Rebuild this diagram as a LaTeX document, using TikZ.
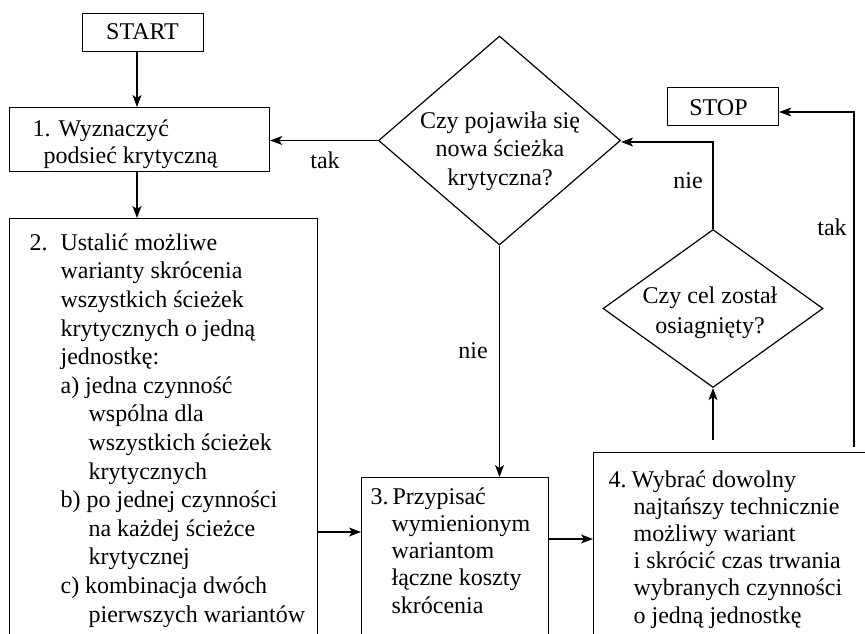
\documentclass[tikz,border=0pt]{standalone}
\usepackage{fontspec}
\setmainfont{Liberation Serif}
\usetikzlibrary{shapes.geometric,arrows.meta,calc}
\begin{document}
\begin{tikzpicture}[x=1pt,y=-1pt,
  line width=1.2pt,
  every node/.style={font=\fontsize{24}{28}\selectfont, inner sep=0pt},
  box/.style={draw, rectangle, anchor=north west},
  dia/.style={draw, diamond, inner sep=0pt},
  txt/.style={anchor=base west, align=left},
  ctxt/.style={anchor=base, align=center},
  lab/.style={anchor=base},
  arr/.style={-{Stealth[length=12pt,width=9pt,inset=3pt]}}]
\useasboundingbox (0,0) rectangle (865,634);
\clip (0,0) rectangle (865,634);

% boxes
\node[box, minimum width=121pt, minimum height=38pt] (start) at (82,13) {};
\node[lab] (starttxt) at (142.5,40) {START};
\node[box, minimum width=111pt, minimum height=38pt] (stop) at (667,87) {};
\node[lab] (stoptxt) at (718.5,115) {STOP};
\node[box, minimum width=260pt, minimum height=64pt] (b1) at (9,107) {};
\node[box, minimum width=308pt, minimum height=450pt] (b2) at (9,218) {};
\node[box, minimum width=187pt, minimum height=200pt] (b3) at (361,477) {};
\node[box, minimum width=300pt, minimum height=220pt] (b4) at (593,452) {};

% diamonds
\node[dia, minimum width=242pt, minimum height=209pt] (d1) at (499.5,140.5) {};
\node[dia, minimum width=220pt, minimum height=158pt] (d2) at (713,308.5) {};

% texts (anchor = baseline of the last line)
\node[txt, font=\fontsize{24}{27}\selectfont] (t1) at (32,163)
  {1. Wyznaczyć\\\hspace*{11pt}podsieć krytyczną};
\node[txt, font=\fontsize{24}{28.6}\selectfont] (t2) at (29,622)
  {\makebox[31pt][l]{2.}Ustalić możliwe\\
   \hspace*{31pt}warianty skrócenia\\
   \hspace*{31pt}wszystkich ścieżek\\
   \hspace*{31pt}krytycznych o jedną\\
   \hspace*{31pt}jednostkę:\\
   \hspace*{31pt}a) jedna czynność\\
   \hspace*{59pt}wspólna dla\\
   \hspace*{59pt}wszystkich ścieżek\\
   \hspace*{59pt}krytycznych\\
   \hspace*{31pt}b) po jednej czynności\\
   \hspace*{59pt}na każdej ścieżce\\
   \hspace*{59pt}krytycznej\\
   \hspace*{31pt}c) kombinacja dwóch\\
   \hspace*{59pt}pierwszych wariantów};
\node[txt, font=\fontsize{24}{27.2}\selectfont] (t3) at (370,613)
  {\makebox[22pt][l]{3.}Przypisać\\
   \hspace*{21pt}wymienionym\\
   \hspace*{21pt}wariantom\\
   \hspace*{21pt}łączne koszty\\
   \hspace*{21pt}skrócenia};
\node[txt, font=\fontsize{24}{27.2}\selectfont] (t4) at (608,623)
  {\makebox[23pt][l]{4.}Wybrać dowolny\\
   \hspace*{25pt}najtańszy technicznie\\
   \hspace*{25pt}możliwy wariant\\
   \hspace*{25pt}i skrócić czas trwania\\
   \hspace*{25pt}wybranych czynności\\
   \hspace*{25pt}o jedną jednostkę};
\node[ctxt, font=\fontsize{24}{28.5}\selectfont] (td1) at (500,185)
  {Czy pojawiła się\\nowa ścieżka\\krytyczna?};
\node[ctxt, font=\fontsize{24}{30}\selectfont] (td2) at (710,333)
  {Czy cel został\\osiagnięty?};

% labels
\node[lab] (l1) at (325,168) {tak};
\node[lab] (l2) at (473,358) {nie};
\node[lab] (l3) at (688,188) {nie};
\node[lab] (l4) at (832,235) {tak};

% free ends
\coordinate (g4) at (713,440);
\coordinate (k4) at (854,447);

% connectors
\draw[arr] (start.south -| 137,0) -- (b1.north -| 137,0);
\draw[arr] (b1.south -| 137,0) -- (b2.north -| 137,0);
\draw[arr] (d1.west) -- (b1.east |- d1.west);
\draw[arr] (d1.south) -- (b3.north -| d1.south);
\draw[arr] (b2.east |- 0,532) -- (b3.west |- 0,532);
\draw[arr] (b3.east |- 0,539) -- (b4.west |- 0,539);
\draw[arr] (g4) -- (d2.south);
\draw[arr] (d2.north) -- (d2.north |- 0,142) -- (d1.east |- 0,142);
\draw[arr] (k4) -- (k4 |- 0,112) -- (stop.east |- 0,112);
\end{tikzpicture}
\end{document}
